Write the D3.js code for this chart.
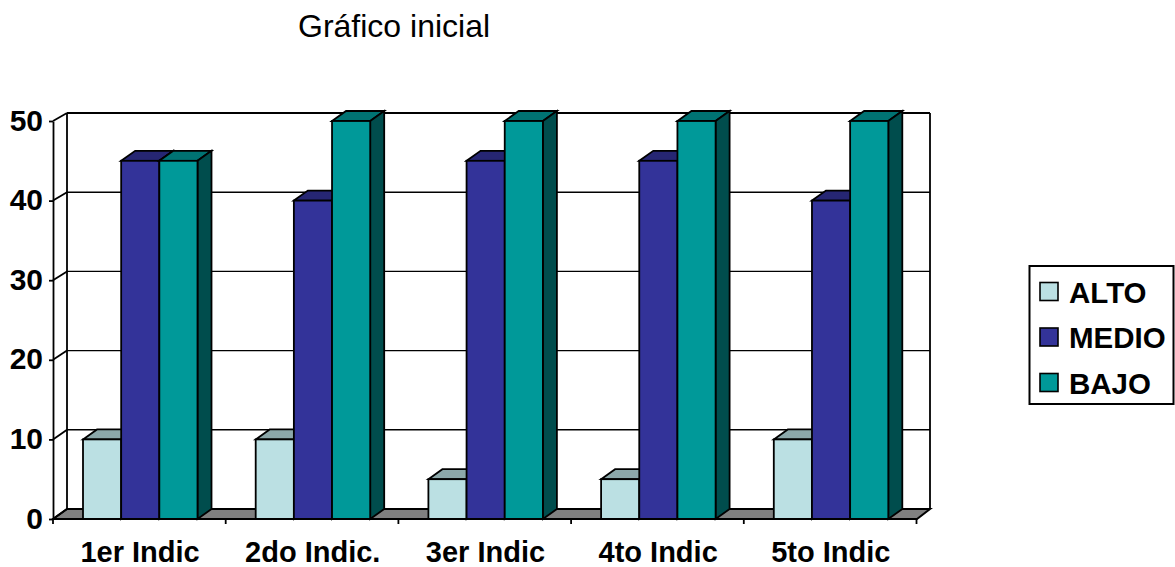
<!DOCTYPE html>
<html lang="es">
<head>
<meta charset="UTF-8">
<title>Gráfico inicial</title>
<script src="https://d3js.org/d3.v7.min.js"></script>
<style>
  html, body { margin: 0; padding: 0; background: #fff; }
  svg { display: block; font-family: "Liberation Sans", Arial, sans-serif; }
</style>
</head>
<body>
<svg id="chart" width="1175" height="567"></svg>
<script>
const categories = ["1er Indic", "2do Indic.", "3er Indic", "4to Indic", "5to Indic"];
const seriesNames = ["ALTO", "MEDIO", "BAJO"];
const alto = [10, 10, 5, 5, 10];
const medio = [45, 40, 45, 45, 40];
const bajo = [45, 50, 50, 50, 50];
const yTicks = [0, 10, 20, 30, 40, 50];

const seriesValues = [alto, medio, bajo];
const front = ["#bbe0e3", "#333399", "#009999"];
const topFace = ["#8ca8aa", "#262673", "#007373"];
const sideFace = ["#5e7072", "#1a1a4d", "#004d4d"];

const svg = d3.select("#chart");
const depthX = 14, depthY = 10;

const x0 = d3.scaleBand().domain(categories).range([53, 916.5]);
const x1 = d3.scaleBand().domain(seriesNames).range([30, 144.5]);
const y = d3.scaleLinear().domain([0, 50]).range([519, 121]);
const yBack = d3.scaleLinear().domain([0, 50]).range([509, 113]);
const poly = pts => pts.map(p => p.join(",")).join(" ");

svg.append("text").attr("x", 298).attr("y", 37)
  .style("font-size", "32px").attr("fill", "#000").text("Gráfico inicial");

// walls and floor
const wallLeft = x0.range()[0] + depthX, wallRight = x0.range()[1] + depthX - 0.5;
svg.append("polygon")
  .attr("points", poly([[53, y(0)], [917, y(0)], [wallRight, yBack(0)], [wallLeft, yBack(0)]]))
  .attr("fill", "#808080").attr("stroke", "#000").attr("stroke-width", 2);

svg.append("g").selectAll("line").data(yTicks.slice(1)).join("line")
  .attr("x1", wallLeft).attr("x2", wallRight)
  .attr("y1", d => yBack(d)).attr("y2", d => yBack(d))
  .attr("stroke", "#000").attr("stroke-width", d => d === 50 ? 2 : 1.4);

svg.append("path")
  .attr("d", `M${wallLeft},${yBack(0)}V${yBack(50)}M${wallRight},${yBack(0)}V${yBack(50)}`)
  .attr("stroke", "#000").attr("stroke-width", 1.8).attr("fill", "none");

// side wall diagonals
svg.append("g").selectAll("line").data(yTicks).join("line")
  .attr("x1", 53).attr("x2", wallLeft)
  .attr("y1", d => y(d)).attr("y2", d => yBack(d))
  .attr("stroke", "#000").attr("stroke-width", 1.8);

// bars
const groups = svg.append("g").selectAll("g").data(categories).join("g")
  .attr("transform", d => `translate(${x0(d)},0)`);

groups.each(function (cat, i) {
  const g = d3.select(this);
  seriesNames.forEach((name, s) => {
    const v = seriesValues[s][i];
    const l = x1(name), r = l + x1.bandwidth(), t = y(v), b = y(0);
    g.append("polygon")
      .attr("points", poly([[l, t], [l + depthX, t - depthY], [r + depthX, t - depthY], [r, t]]))
      .attr("fill", topFace[s]).attr("stroke", "#000").attr("stroke-width", 1.8);
    g.append("polygon")
      .attr("points", poly([[r, t], [r + depthX, t - depthY], [r + depthX, b - depthY], [r, b]]))
      .attr("fill", sideFace[s]).attr("stroke", "#000").attr("stroke-width", 1.8);
    g.append("rect")
      .attr("x", l).attr("y", t).attr("width", x1.bandwidth()).attr("height", b - t)
      .attr("fill", front[s]).attr("stroke", "#000").attr("stroke-width", 1.8);
  });
});

// y axis
const yAxis = svg.append("g").attr("transform", "translate(53,0)")
  .call(d3.axisLeft(y).tickValues(yTicks).tickSize(4).tickSizeOuter(0).tickPadding(6));
yAxis.selectAll("path, line").attr("stroke", "#000").attr("stroke-width", 1.8);
yAxis.selectAll("text")
  .attr("dy", "0.3em")
  .style("font-family", "inherit").style("font-size", "30px").style("font-weight", "bold").attr("fill", "#000");

// x axis, labels at band centres, tick marks on the band edges
const xAxis = svg.append("g").attr("transform", `translate(0,${y(0)})`)
  .call(d3.axisBottom(x0).tickSize(0).tickPadding(22));
xAxis.select("path").remove();
xAxis.selectAll("text")
  .attr("dx", 0.7)
  .style("font-family", "inherit").style("font-size", "29px").style("font-weight", "bold").attr("fill", "#000");
xAxis.append("path")
  .attr("d", `M53,0H917`).attr("stroke", "#000").attr("stroke-width", 2);
xAxis.append("g").selectAll("line")
  .data(categories.map(c => x0(c)).concat(x0.range()[1])).join("line")
  .attr("x1", d => d).attr("x2", d => d).attr("y1", 0).attr("y2", 5)
  .attr("stroke", "#000").attr("stroke-width", 1.8);

// legend
const legend = svg.append("g");
legend.append("rect").attr("x", 1029.5).attr("y", 266).attr("width", 144).attr("height", 138)
  .attr("fill", "#fff").attr("stroke", "#000").attr("stroke-width", 2);
const legendY = d3.scalePoint().domain(seriesNames).range([292, 383]);
const items = legend.selectAll("g").data(seriesNames).join("g")
  .attr("transform", d => `translate(0,${legendY(d)})`);
items.append("rect").attr("x", 1040).attr("y", -9.5).attr("width", 18).attr("height", 18)
  .attr("fill", (d, i) => front[i]).attr("stroke", "#000").attr("stroke-width", 1.6);
items.append("text").attr("x", 1069).attr("y", 10.5)
  .style("font-size", "29.5px").style("font-weight", "bold").attr("fill", "#000").text(d => d);
</script>
</body>
</html>
